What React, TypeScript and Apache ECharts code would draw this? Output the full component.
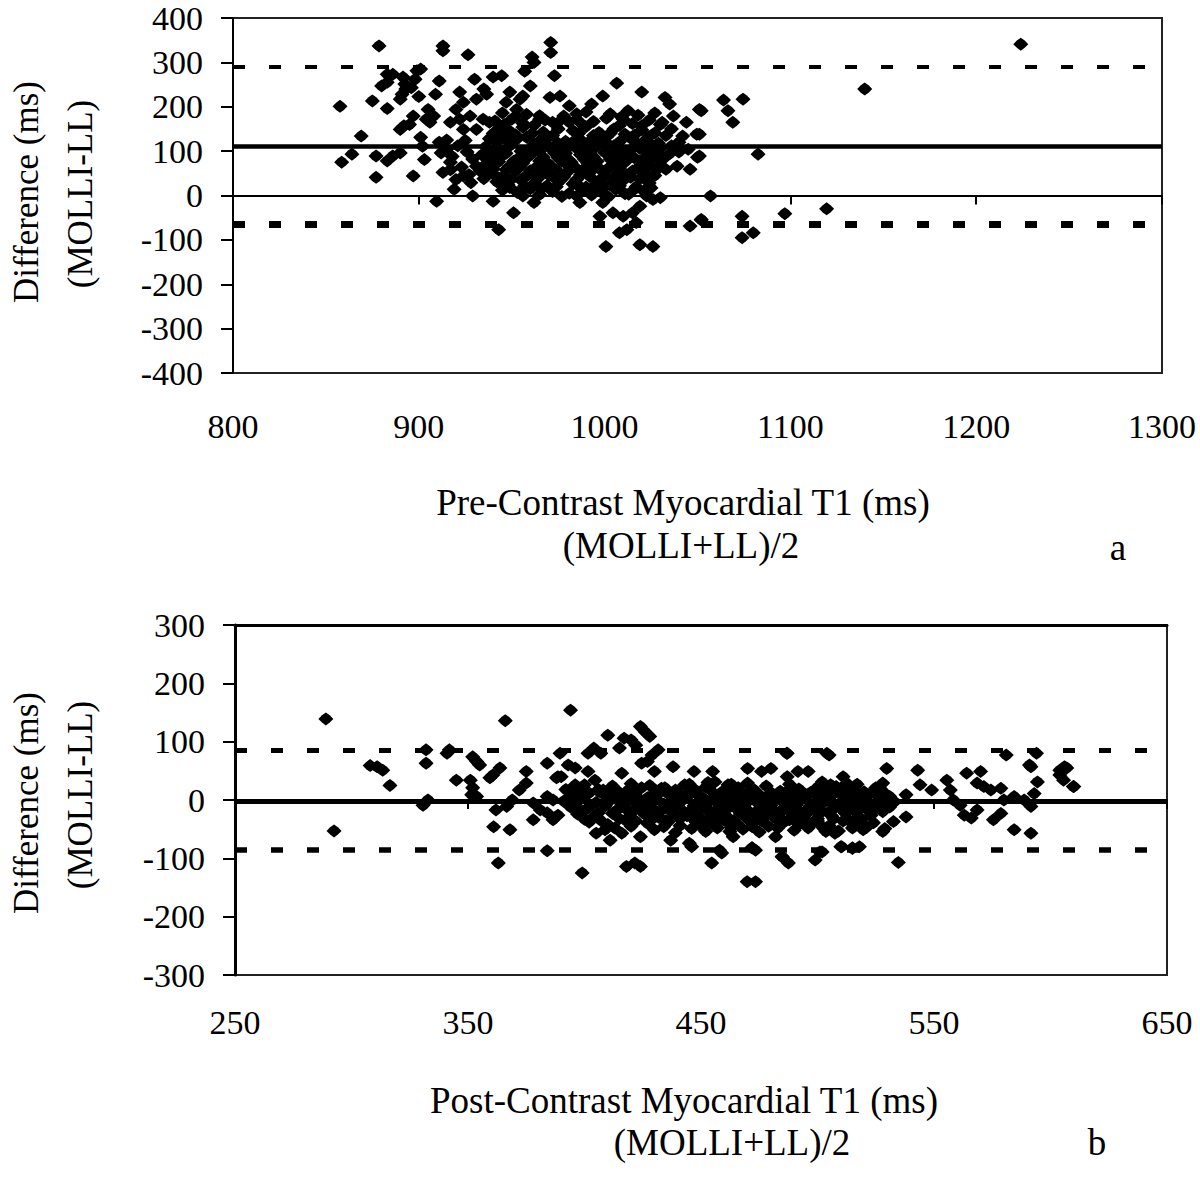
import React, { useEffect, useRef } from "react";
import * as echarts from "echarts";

// ---------- Panel a: pre-contrast ----------
const preXTicks = { min: 800, max: 1300, interval: 100 };
const preYTicks = { min: -400, max: 400, interval: 100 };
const preMeanDiff = 111;
const preUpperLoA = 290;
const preLowerLoA = -65;
const prePoints: number[][] = [
  [878.6,337],[913,337],[913,326],[926.5,317],[971,345],[971,322],[961,312],[962,300],[957,280],[973,270],
  [883,273],[886,273],[880,247],[883,255],[891.5,267],[892.5,251],[899,281],[901,285],[898,262],[857.6,201],
  [875,213],[883,196],[891,228],[893,240],[890,217],[896,243],[900,223],[909,228],[911,258],[905,194],
  [908,179],[906,165],[904,172],[897,179],[895,160],[892,157],[890,149],[869,134],[864,93],[858.5,75],
  [877,89],[883,78],[886,89],[890,96],[877,41],[897,44],[901,131],[902,111],[903,81],[909.6,-13],
  [911,120],[915,104],[917,75],[913,52],[920,36],[919,14],[924,44],[928,29],[931,66],[922,233],
  [924,210],[920,194],[922,172],[917,165],[930,262],[935,240],[931,217],[936.5,228],[940,267],[944.6,270],
  [927.6,179],[934.6,172],[938,165],[931,149],[924,149],[929,-1],[940,-13],[951,-39],[956,-1],[962,-16],
  [943,-77],[949,233],[954.5,217],[947,210],[952.6,194],[960,247],[956,224],[970.6,221],[976,224],[981,202],
  [978,179],[985,172],[972,165],[965,172],[993,206],[999,224],[1006.5,253],[1012.6,191],[1010,172],[1020,233],
  [1032.5,221],[1035,206],[1051,194],[1044,165],[1031,165],[1037,179],[1042,134],[1049.6,138],[1050,86],[1046,59],
  [1039,66],[1033,59],[1022.6,-1],[1026,-9],[1030,-5],[1019,-24],[1015,-39],[1010,-47],[1017,-61],[1012,-77],
  [1008,-84],[1046,-69],[1052,-55],[1004.5,-39],[997.5,-47],[999,-16],[986.7,-16],[985,-1],[1000.7,-115],[1019,-111],
  [1026,-115],[1052,191],[1051,138],[1051,89],[1057,-1],[1064,215],[1066.4,191],[1069,165],[1074.5,217],[1082.6,93],
  [1052,-54],[1074,-47],[1074,-95],[1080,-84],[1097,-41],[1119.5,-30],[1140,240],[1224,341],
  [945,186],[958,183],[990,188],[1003,184],[1018,181],[1027,186],
  [941,168],[950,172],[962,158],[968,170],[994,167],[1001,174],[1015,162],[1024,170],
  [943,151],[949,145],[956,154],[961,140],[975,150],[983,146],[990,155],[997,142],[1005,150],[1011,138],[1020,148],[1027,141],[1036,150],
  [938,128],[946,133],[952,124],[958,131],[966,127],[972,135],[979,122],[986,130],[993,126],[1001,132],[1008,121],[1014,129],[1022,125],[1029,118],[1040,120],
  [936,110],[942,104],[949,112],[955,100],[962,108],[969,114],[976,105],[982,113],[988,100],[995,109],[1002,115],[1009,103],[1016,110],[1023,98],[1030,106],[1045,104],
  [934,92],[940,85],[947,95],[953,82],[960,91],[967,86],[973,96],[980,83],[987,92],[994,87],[1000,97],[1007,84],[1013,93],[1020,80],[1026,89],[1035,94],
  [936,70],[943,76],[949,66],[956,73],[963,63],[970,71],[977,77],[984,64],[991,72],[997,61],[1004,69],[1011,75],[1018,62],[1024,70],[1030,77],
  [939,51],[946,44],[952,55],[959,47],[966,52],[973,40],[980,53],[987,46],[993,56],[1000,43],[1007,50],[1014,41],[1021,54],[1027,45],
  [942,31],[948,24],[955,35],[962,27],[969,22],[976,33],[983,26],[990,19],[996,30],[1003,24],[1010,34],[1017,20],[1024,28],
  [945,12],[953,7],[960,15],[972,9],[981,5],[989,13],[998,8],[1006,14],[1013,3],[1021,10],
  [915,125],[921,112],[926,98],[918,88],[929,82],[923,64],[933,55],[927,47],[935,38],[917,58],[912,96],[925,124],
  [952,178],[965,180],[978,175],[985,184],[1009,177],
  [946,160],[956,163],[974,161],[981,165],[988,160],[1008,158],[1020,157],[1030,160],
  [940,140],[952,137],[967,143],[970,132],[986,140],[994,135],[1003,140],[1016,136],[1024,133],[1033,135],
  [942,120],[949,118],[962,116],[975,118],[983,121],[990,116],[997,120],[1005,112],[1018,116],[1026,112],[1036,112],
  [938,100],[945,96],[958,94],[965,99],[972,103],[979,95],[985,106],[992,98],[1005,95],[1012,100],[1019,106],[1028,97],[1040,98],
  [937,80],[944,86],[951,77],[958,84],[965,78],[975,85],[982,75],[989,82],[996,77],[1003,82],[1010,79],[1016,85],[1023,78],[1032,84],
  [940,60],[947,58],[954,64],[960,56],[967,62],[974,58],[981,65],[988,57],[995,66],[1001,58],[1008,62],[1015,55],[1022,64],[1028,58],
  [943,40],[950,37],[957,42],[964,38],[970,46],[978,42],[985,36],[992,43],[998,37],[1005,41],[1012,47],[1019,38],[1025,40],
  [949,18],[957,22],[966,15],[974,20],[986,22],[993,16],[1000,20],[1008,22],[1016,14],[1025,17],
  [965,2],[977,-2],[993,1],[1002,-3],[1011,4]
];

// ---------- Panel b: post-contrast ----------
const postXTicks = { min: 250, max: 650, interval: 100 };
const postYTicks = { min: -300, max: 300, interval: 100 };
const postMeanDiff = -2;
const postUpperLoA = 85;
const postLowerLoA = -86;
const postPoints: number[][] = [
  [289,139],[366,136],[308,59],[311,57],[313.4,51],[316.5,25],[292.5,-53],[332,86],[332,63],[330.7,-9],
  [332.8,0],[341,80],[342,86],[352,74],[355,60],[353.7,66],[360.7,43],[363.7,55],[359.4,38],[345,34],
  [351,34],[352,21],[353.7,6],[351.6,9],[363,-108],[361,-46],[368,-51],[362,-17],[369,0],[372,17],
  [375,29],[366.6,-11],[378,-5],[381,-17],[384,6],[386.5,0],[384,63],[375,49],[388,38],[384,-22],
  [378,-34],[386.5,-34],[384,-87],
  [394,154],[399,-125],[410,111],[424,126],[426,117],[428,109],[417,106],[420,103],[415,89],[422,94],
  [404,89],[401.5,80],[431.6,86],[429,77],[393,60],[396,55],[390,40],[396,26],[401.5,49],[404.5,34],
  [408,17],[416,46],[424.5,63],[427,66],[430,49],[438,57],[413,12],[418.7,17],[421.7,9],[424.5,21],
  [430,12],[434.5,21],[439,17],[443,26],[447,49],[455,49],[456,31],[461.6,26],[470,54],[476,49],
  [480,54],[487,40],[491.6,49],[496,49],[502,31],[505.6,26],[487,80],[504,80],[389.5,80],[407,80],
  [405,-57],[408.8,-51],[411,-69],[416,-57],[424,-63],[418,-114],[421.6,-108],[424,-114],[446,-80],[454.6,-108],
  [458.9,-91],[462.4,-54],[463.8,-63],[471.8,-82],[473.4,-86],[469.8,-140],[473.4,-140],[482,-63],[484.8,-97],[487.5,-108],
  [499,-103],[502,-89],[503.6,-54],[437,-69],[388.6,40],[388.6,-26],
  [505,77],[581,77],[594,80],[591,60],[529.7,54],[543,51],[544,26],[549,17],[511,40],[512.5,29],
  [508,23],[514,17],[528,29],[538,9],[531,6],[527,6],
  [507.5,-57],[510.4,-80],[515,-83],[518,-80],[519.6,-51],[528,-54],[528.9,-49],[532.6,-37],[538,-29],[534.7,-107],
  [555.5,34],[557,17],[558.3,0],[561.2,-9],[564,46],[570,49],[568.5,29],[571.4,23],[574.4,17],[578.7,20],
  [563,-26],[566,-31],[568.5,-17],[575.5,-34],[578.7,-23],[580,0],[584.4,6],[588.7,0],[591.6,-11],[593,11],
  [594.4,31],[591.6,57],[584.4,-51],[591.6,-57],[604,51],[606,57],[605.6,34],[609.8,23],
  [445,-74],[458,-86],[472,-82],[485,-98],[501,-89],[510,-80],[515,-82],[486.8,80],[607,55],[604,43],[610,23],
  [392,18],[399,22],[406,15],[433,20],[448,16],[452,22],[459,14],[466,21],[473,17],[478,24],[484,15],[492,19],[497,13],[512,20],[520,14],[525,21],
  [395,8],[402,12],[410,5],[417,9],[427,4],[436,10],[441,6],[446,12],[451,3],[457,8],[463,11],[468,4],[475,9],[481,6],[486,12],[491,2],[496,9],[501,5],[507,11],[513,4],[518,8],[523,12],[529,3],
  [391,-2],[398,1],[405,-4],[412,2],[419,-1],[425,-5],[431,1],[437,-3],[443,2],[449,-6],[454,-1],[460,3],[465,-4],[471,0],[476,-7],[482,1],[488,-3],[493,2],[499,-5],[504,0],[510,-4],[516,2],[521,-6],[526,-1],[533,-3],
  [394,-12],[401,-15],[409,-10],[415,-14],[421,-18],[428,-11],[434,-15],[440,-9],[446,-17],[452,-12],[457,-16],[463,-10],[469,-14],[474,-19],[479,-12],[485,-16],[490,-10],[496,-15],[502,-20],[508,-12],[514,-17],[519,-11],[525,-15],[531,-12],
  [397,-24],[404,-28],[412,-23],[419,-29],[426,-25],[432,-30],[438,-22],[444,-27],[450,-31],[456,-24],[461,-28],[467,-23],[473,-30],[478,-26],[484,-22],[489,-29],[495,-25],[500,-32],[506,-27],[512,-23],[517,-30],[523,-26],
  [402,-38],[410,-42],[418,-36],[427,-40],[436,-37],[441,-44],[448,-38],[455,-41],[460,-35],[466,-43],[472,-39],[479,-45],[486,-37],[492,-42],[498,-38],[505,-44],[511,-36],[516,-41],[524,-39],
  [413,-48],[430,-51],[439,-56],[446,-49],[452,-54],[468,-50],[475,-55],[490,-52],[496,-48],[509,-53],[521,-47],
  [400,26],[412,24],[420,28],[428,25],[445,27],[453,30],[463,27],[470,29],[488,27],[500,22],[506,25],[517,27],
  [398,15],[406,18],[414,16],[422,14],[430,18],[440,14],[454,17],[462,18],[470,12],[480,13],[489,16],[494,12],[503,15],[510,16],[516,12],[528,15],
  [393,4],[400,6],[408,10],[415,3],[422,7],[431,8],[439,3],[444,9],[449,7],[455,2],[461,6],[466,9],[472,3],[478,4],[484,8],[489,6],[494,4],[499,10],[505,3],[511,7],[520,4],[526,8],
  [396,-7],[403,-9],[409,-6],[416,-8],[423,-9],[428,-6],[434,-7],[440,-5],[447,-10],[452,-7],[458,-9],[463,-7],[468,-8],[474,-4],[480,-9],[486,-7],[491,-8],[497,-10],[502,-6],[507,-9],[513,-7],[518,-9],[524,-8],[529,-7],
  [399,-19],[406,-22],[413,-20],[418,-16],[425,-21],[431,-20],[437,-18],[443,-21],[449,-19],[454,-22],[460,-20],[466,-18],[471,-21],[477,-19],[482,-20],[488,-18],[493,-21],[499,-19],[505,-20],[511,-18],[517,-21],[522,-19],[528,-20],
  [400,-33],[407,-35],[415,-32],[422,-36],[429,-33],[435,-35],[441,-32],[447,-34],[453,-36],[458,-32],[464,-35],[470,-33],[476,-36],[482,-32],[488,-34],[494,-33],[500,-36],[507,-32],[513,-34],[519,-33],
  [420,-45],[434,-46],[450,-45],[457,-48],[463,-47],[472,-46],[483,-48],[502,-46],[515,-48]
];

const yTitle1 = "Difference (ms)";
const yTitle2 = "(MOLLI-LL)";
const preXTitle = "Pre-Contrast Myocardial T1 (ms)";
const postXTitle = "Post-Contrast Myocardial T1 (ms)";
const xSubTitle = "(MOLLI+LL)/2";

const FONT = '"Liberation Serif", "Times New Roman", serif';
const INK = "#000";
// blunted diamond, like the spreadsheet's diamond marker
const MARKER_PATH = "path://M5 0 L7.6 2.2 L10 5 L7.6 7.8 L5 10 L2.4 7.8 L0 5 L2.4 2.2 Z";

function textEl(text: string, x: number, y: number, size: number, rotation = 0) {
  return {
    type: "text",
    x,
    y,
    rotation,
    silent: true,
    style: {
      text,
      fontSize: size,
      fontFamily: FONT,
      fill: INK,
      align: "center",
      verticalAlign: "middle",
      textAlign: "center",
      textVerticalAlign: "middle",
    },
  };
}

export default function App() {
  const ref = useRef<HTMLDivElement>(null);
  useEffect(() => {
    if (!ref.current) return;
    const chart = echarts.init(ref.current, undefined, { renderer: "svg" });
    const plain = (v: number) => String(v);
    const labelStyle = { fontSize: 34, fontFamily: FONT, color: INK, formatter: plain };
    const markLines = (mean: number, up: number, low: number, upW: number, lowW: number, meanW: number) => ({
      silent: true,
      symbol: ["none", "none"],
      label: { show: false },
      emphasis: { disabled: true },
      data: [
        { yAxis: up, lineStyle: { color: INK, width: upW, type: [12, 24] } },
        { yAxis: mean, lineStyle: { color: INK, width: meanW, type: "solid" } },
        { yAxis: low, lineStyle: { color: INK, width: lowW, type: [12, 24] } },
      ],
    });
    const marker = {
      symbol: MARKER_PATH,
      symbolSize: [15, 13],
      itemStyle: { color: INK, opacity: 1 },
      emphasis: { disabled: true },
    };
    chart.setOption({
      animation: false,
      backgroundColor: "#fff",
      grid: [
        { left: 233, top: 18, width: 929, height: 355, show: true, borderColor: "#222", borderWidth: 2 },
        { left: 235, top: 625, width: 932, height: 350, show: true, borderColor: "#222", borderWidth: 2 },
      ],
      xAxis: [
        {
          gridIndex: 0, type: "value", ...preXTicks, position: "bottom",
          axisLine: { show: false, onZero: false }, axisTick: { show: false },
          splitLine: { show: false }, axisLabel: { ...labelStyle, margin: 36 },
        },
        {
          gridIndex: 0, type: "value", ...preXTicks, position: "bottom",
          axisLine: { show: true, onZero: true, lineStyle: { color: INK, width: 2 } },
          axisTick: { show: true, length: 9, lineStyle: { color: INK, width: 2 } },
          splitLine: { show: false }, axisLabel: { show: false },
        },
        {
          gridIndex: 1, type: "value", ...postXTicks, position: "bottom",
          axisLine: { show: false, onZero: false }, axisTick: { show: false },
          splitLine: { show: false }, axisLabel: { ...labelStyle, margin: 30 },
        },
        {
          gridIndex: 1, type: "value", ...postXTicks, position: "bottom",
          axisLine: { show: true, onZero: true, lineStyle: { color: INK, width: 2 } },
          axisTick: { show: true, length: 9, lineStyle: { color: INK, width: 2 } },
          splitLine: { show: false }, axisLabel: { show: false },
        },
        {
          gridIndex: 1, type: "value", ...postXTicks, position: "top",
          axisLine: { show: true, onZero: false, lineStyle: { color: INK, width: 3 } },
          axisTick: { show: false }, splitLine: { show: false }, axisLabel: { show: false },
        },
      ],
      yAxis: [
        {
          gridIndex: 0, type: "value", ...preYTicks,
          axisLine: { show: true, onZero: false, lineStyle: { color: INK, width: 2 } },
          axisTick: { show: true, length: 12, lineStyle: { color: INK, width: 2 } },
          splitLine: { show: false }, axisLabel: { ...labelStyle, margin: 30 },
        },
        {
          gridIndex: 1, type: "value", ...postYTicks,
          axisLine: { show: true, onZero: false, lineStyle: { color: INK, width: 3 } },
          axisTick: { show: true, length: 12, lineStyle: { color: INK, width: 2 } },
          splitLine: { show: false }, axisLabel: { ...labelStyle, margin: 30 },
        },
      ],
      series: [
        {
          type: "scatter", xAxisIndex: 0, yAxisIndex: 0, data: prePoints, ...marker,
          markLine: markLines(preMeanDiff, preUpperLoA, preLowerLoA, 4, 7, 4.5),
        },
        {
          type: "scatter", xAxisIndex: 2, yAxisIndex: 1, data: postPoints, ...marker,
          markLine: markLines(postMeanDiff, postUpperLoA, postLowerLoA, 5, 5.5, 5),
        },
      ],
      graphic: [
        textEl(yTitle1, 26, 192, 35, Math.PI / 2),
        textEl(yTitle2, 80, 194, 35, Math.PI / 2),
        textEl(preXTitle, 683, 502, 37),
        textEl(xSubTitle, 681, 545, 37),
        textEl("a", 1118, 547, 37),
        textEl(yTitle1, 26, 803, 35, Math.PI / 2),
        textEl(yTitle2, 80, 795, 35, Math.PI / 2),
        textEl(postXTitle, 684, 1100, 37),
        textEl(xSubTitle, 732, 1142, 37),
        textEl("b", 1097, 1142, 37),
      ],
    });
    return () => chart.dispose();
  }, []);
  return (
    <div
      ref={ref}
      style={{ position: "absolute", left: 0, top: 0, width: 1200, height: 1179 }}
    />
  );
}
